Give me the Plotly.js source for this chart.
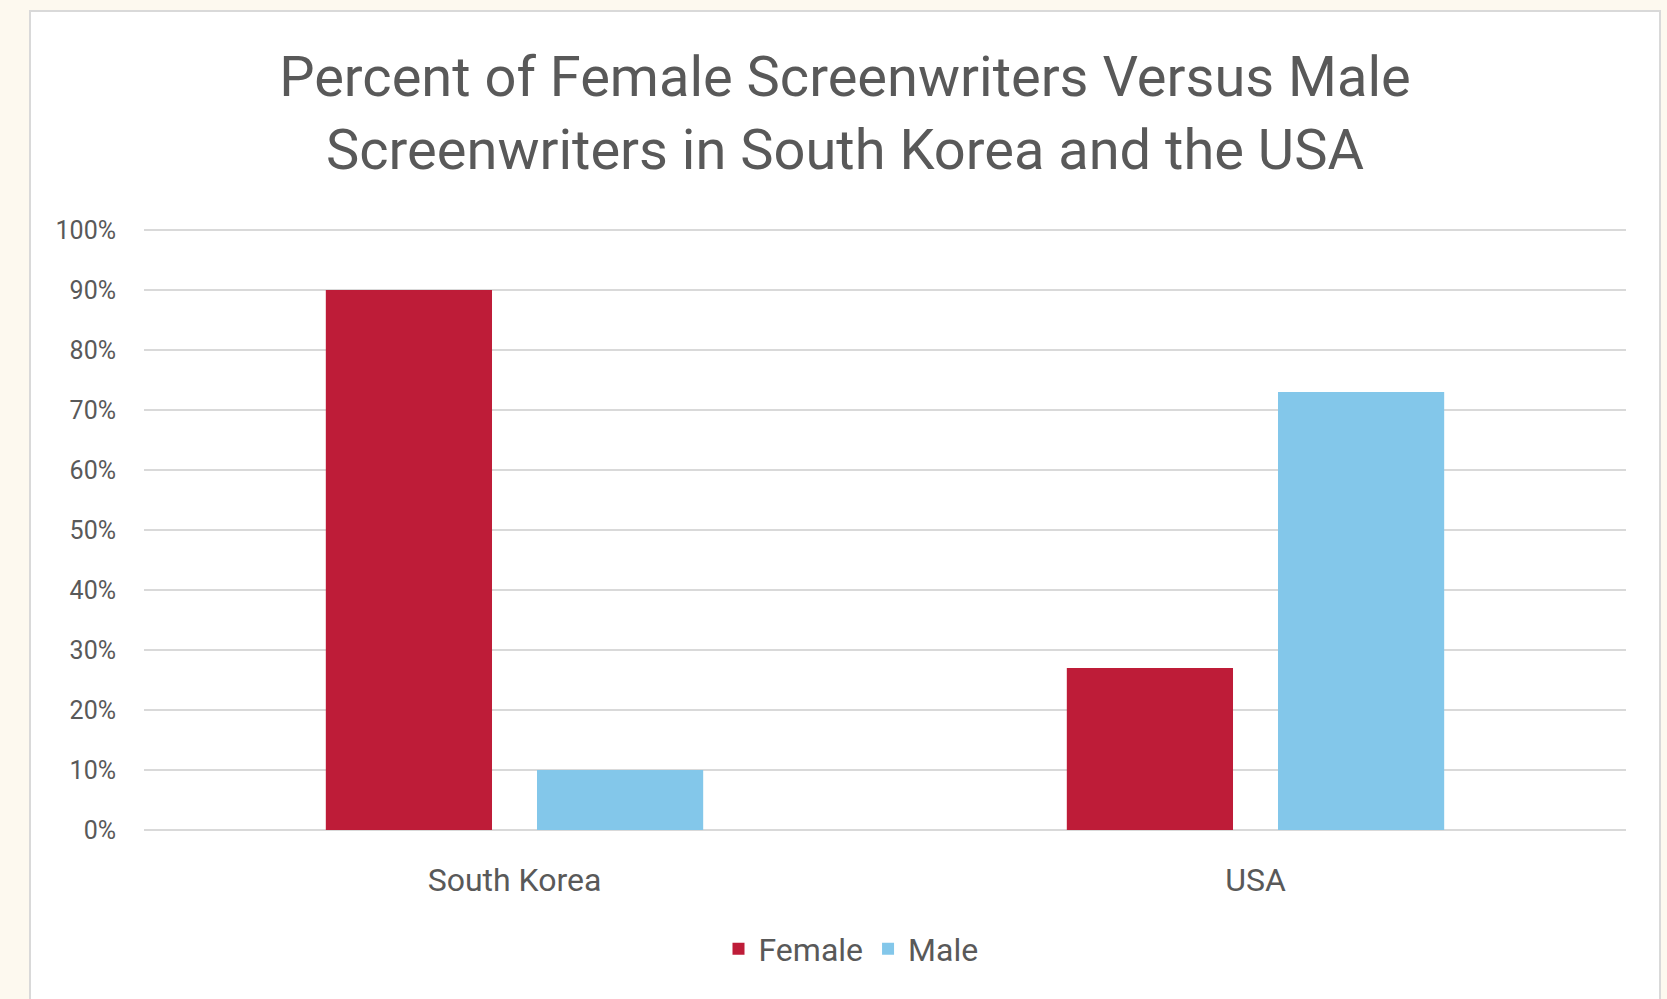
<!DOCTYPE html>
<html>
<head>
<meta charset="utf-8">
<script src="https://cdn.plot.ly/plotly-3.0.1.min.js"></script>
<style>
  html, body { margin: 0; padding: 0; background: #FDF9EF; }
  #chart { width: 1667px; height: 999px; }
</style>
</head>
<body>
<div id="chart"></div>
<script>
const categories = ["South Korea", "USA"];
const femaleValues = [90, 27];
const maleValues = [10, 73];
const seriesNames = ["Female", "Male"];
const tickValues = [0, 10, 20, 30, 40, 50, 60, 70, 80, 90, 100];
const tickLabels = ["0%", "10%", "20%", "30%", "40%", "50%", "60%", "70%", "80%", "90%", "100%"];
const titleText = "Percent of Female Screenwriters Versus Male<br>Screenwriters in South Korea and the USA";

const textColor = "#595959";
const font = "Roboto, 'Open Sans', sans-serif";

const traces = [
  { type: "bar", name: seriesNames[0], x: categories, y: femaleValues,
    marker: { color: "#BE1C38" }, hoverinfo: "x+y+name" },
  { type: "bar", name: seriesNames[1], x: categories, y: maleValues,
    marker: { color: "#83C7EA" }, hoverinfo: "x+y+name" }
];

const layout = {
  width: 1667,
  height: 999,
  paper_bgcolor: "#FDF9EF",
  plot_bgcolor: "#FFFFFF",
  margin: { l: 144, r: 41, t: 227, b: 169, pad: 0 },
  font: { family: font, color: textColor },
  title: {
    text: titleText,
    font: { family: font, size: 56, color: textColor },
    x: 845 / 1667, xanchor: "center", xref: "container",
    y: 1 - 96 / 999, yanchor: "top", yref: "container"
  },
  barmode: "group",
  bargap: 0.43,
  bargroupgap: 0.213,
  xaxis: {
    type: "category",
    showgrid: false,
    zeroline: false,
    showline: false,
    ticks: "",
    tickfont: { family: font, size: 32, color: textColor },
    ticklabelstandoff: 28
  },
  yaxis: {
    range: [0, 100.5],
    tickmode: "array",
    tickvals: tickValues,
    ticktext: tickLabels,
    showgrid: true,
    gridcolor: "#D9D9D9",
    gridwidth: 2,
    zeroline: true,
    zerolinecolor: "#D9D9D9",
    zerolinewidth: 2,
    showline: false,
    ticks: "",
    tickfont: { family: font, size: 25, color: textColor },
    ticklabelstandoff: 27
  },
  showlegend: true,
  legend: {
    orientation: "h",
    x: (851 - 144) / 1482, xanchor: "center",
    y: (830 - 949) / 603, yanchor: "middle",
    font: { family: font, size: 32, color: textColor },
    bgcolor: "rgba(0,0,0,0)",
    itemclick: false
  },
  shapes: [{
    type: "rect", xref: "paper", yref: "paper", layer: "below",
    x0: (30 - 144) / 1482, x1: (1660 - 144) / 1482,
    y0: (830 - 1010) / 603, y1: (830 - 11) / 603,
    fillcolor: "#FFFFFF",
    line: { color: "#D9D9D9", width: 2 }
  }]
};

Plotly.newPlot("chart", traces, layout, { displayModeBar: false, staticPlot: true });
</script>
</body>
</html>
